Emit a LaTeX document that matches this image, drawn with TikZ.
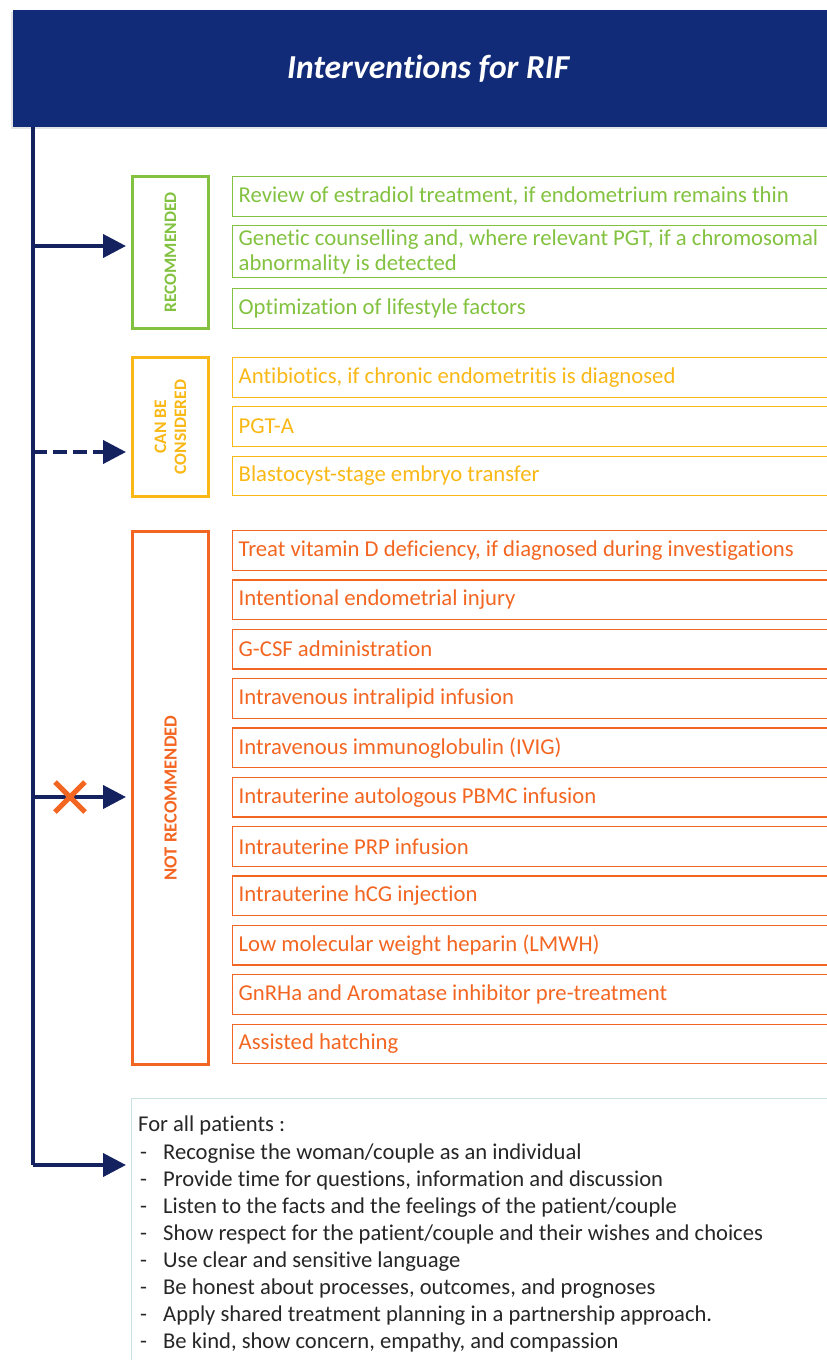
\documentclass[tikz,border=0pt]{standalone}
\usepackage{fontspec}
\setmainfont{Carlito}[Ligatures=NoCommon]
\usetikzlibrary{arrows.meta,positioning}

\definecolor{headblue}{RGB}{17,43,121}
\definecolor{linkblue}{RGB}{20,34,96}
\definecolor{recgreen}{RGB}{130,194,64}
\definecolor{consyellow}{RGB}{249,184,22}
\definecolor{notorange}{RGB}{243,102,34}
\definecolor{patline}{RGB}{200,226,228}
\definecolor{pattext}{RGB}{38,38,38}

\tikzset{
	>={Triangle[length=23pt,width=23pt]},
	link/.style={draw=linkblue, line width=4pt},
	tagbox/.style={draw=#1, line width=3pt, minimum width=76pt, anchor=north west, inner sep=0pt},
	tagtext/.style={text=#1, rotate=90, font=\bfseries\fontsize{17.5}{20}\selectfont, align=center},
	item/.style={draw=#1, text=#1, line width=1.3pt, anchor=north west, text width=640pt,
		inner xsep=6pt, inner ysep=0pt, minimum height=39.5pt, align=flush left,
		font=\fontsize{22.7}{25}\selectfont},
}

\begin{document}
\begin{tikzpicture}[x=1pt,y=-1pt]
		
			\useasboundingbox (0,0) rectangle (827,1360);
			\clip (0,0) rectangle (827,1360);
			
			% title bar
			\fill[black!10] (11,12) rectangle (850,129);
			\node[fill=headblue, anchor=north west, minimum width=830pt, minimum height=117pt,
				text=white, font=\bfseries\itshape\fontsize{33.5}{36}\selectfont] (head) at (13,10) {Interventions for RIF};
			
			% trunk and branch points
			\coordinate (top) at (33,127);
			\coordinate (jrec) at (33,246);
			\coordinate (jcons) at (33,452);
			\coordinate (jnot) at (33,797);
			\coordinate (jall) at (33,1165);
			\coordinate (xmark) at (70,797);
			\draw[link] (top) -- (jall);
			
			% recommended
			\node[tagbox=recgreen, minimum height=152pt] (rec) at (131,175) {};
			\node[tagtext=recgreen] (rectxt) at (rec.center) {RECOMMENDED};
			\node[item=recgreen] (rec1) at (232,176) {Review of estradiol treatment, if endometrium remains thin};
			\node[item=recgreen, minimum height=52pt] (rec2) at (232,225) {Genetic counselling and, where relevant PGT, if a chromosomal\\abnormality is detected};
			\node[item=recgreen] (rec3) at (232,288) {Optimization of lifestyle factors};
			
			% can be considered
			\node[tagbox=consyellow, minimum height=139pt] (cons) at (131,356) {};
			\node[tagtext=consyellow] (constxt) at (cons.center) {CAN BE\\CONSIDERED};
			\node[item=consyellow] (cons1) at (232,357) {Antibiotics, if chronic endometritis is diagnosed};
			\node[item=consyellow] (cons2) at (232,406) {PGT-A};
			\node[item=consyellow] (cons3) at (232,455.5) {Blastocyst-stage embryo transfer};
			
			% not recommended
			\node[tagbox=notorange, minimum height=533pt] (not) at (131,530) {};
			\node[tagtext=notorange, font=\bfseries\fontsize{18.5}{20}\selectfont] (nottxt) at (not.center) {NOT RECOMMENDED};
			\foreach \txt [count=\i] in {{Treat vitamin D deficiency, if diagnosed during investigations},
				Intentional endometrial injury, G-CSF administration, Intravenous intralipid infusion,
				Intravenous immunoglobulin (IVIG), Intrauterine autologous PBMC infusion,
				Intrauterine PRP infusion, Intrauterine hCG injection,
				Low molecular weight heparin (LMWH), GnRHa and Aromatase inhibitor pre-treatment,
				Assisted hatching}
				\node[item=notorange] (not\i) at (232,{530+(\i-1)*49.35}) {\txt};
			
			% for all patients
			\node[draw=patline, line width=1.3pt, anchor=north west, minimum width=720pt, minimum height=300pt] (all) at (131,1098) {};
			\node[anchor=north west, align=left, text=pattext, inner sep=0pt,
				font=\fontsize{22.6}{27.1}\selectfont] (alltxt) at (138,1116)
				{For all patients :\\
				\makebox[25pt][l]{\hspace{2pt}-}Recognise the woman/couple as an individual\\
				\makebox[25pt][l]{\hspace{2pt}-}Provide time for questions, information and discussion\\
				\makebox[25pt][l]{\hspace{2pt}-}Listen to the facts and the feelings of the patient/couple\\
				\makebox[25pt][l]{\hspace{2pt}-}Show respect for the patient/couple and their wishes and choices\\
				\makebox[25pt][l]{\hspace{2pt}-}Use clear and sensitive language\\
				\makebox[25pt][l]{\hspace{2pt}-}Be honest about processes, outcomes, and prognoses\\
				\makebox[25pt][l]{\hspace{2pt}-}Apply shared treatment planning in a partnership approach.\\
				\makebox[25pt][l]{\hspace{2pt}-}Be kind, show concern, empathy, and compassion};
			
			% branches
			\draw[link, ->, shorten >=5pt] (jrec) -- (jrec -| rec.west);
			\draw[link, ->, shorten >=5pt, dash pattern=on 14pt off 6pt] (jcons) -- (jcons -| cons.west);
			\draw[link, ->, shorten >=5pt] (jnot) -- (jnot -| not.west);
			\draw[link, ->, shorten >=5pt] (jall) -- (jall -| all.west);
			\draw[notorange, line width=5pt] ([shift={(-15,-15)}]xmark) -- ([shift={(15,15)}]xmark)
				([shift={(-15,15)}]xmark) -- ([shift={(15,-15)}]xmark);
			
		\end{tikzpicture}
\end{document}
